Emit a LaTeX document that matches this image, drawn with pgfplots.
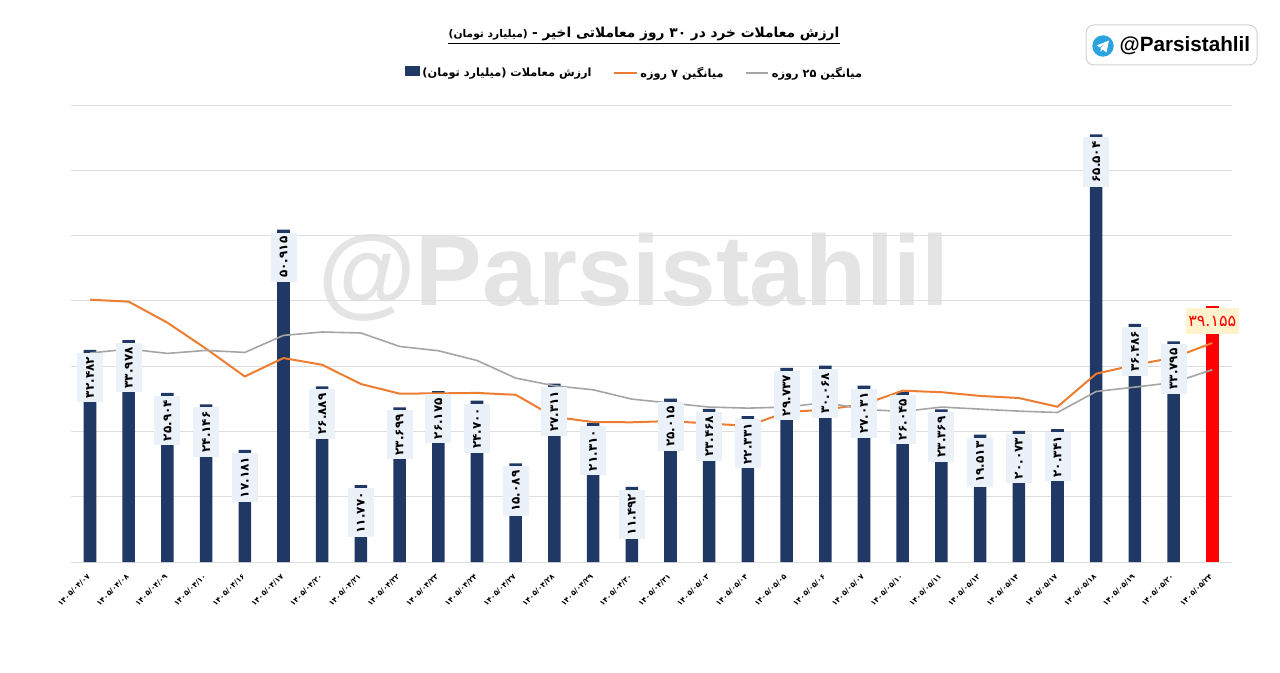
\documentclass[border=0pt]{standalone}
\usepackage{pgfplots}
\pgfplotsset{compat=1.18}
\usepackage{pgfplotstable}
\usetikzlibrary{backgrounds}
\usepackage{fontspec}
\setmainfont{DejaVu Sans}
\newfontfamily\fa[Script=Arabic]{DejaVu Sans}
\newfontfamily\lat{Liberation Sans}
\TeXXeTstate=1
\definecolor{barblue}{RGB}{32,56,100}
\definecolor{maorange}{RGB}{237,125,49}
\definecolor{magray}{RGB}{165,165,165}
\definecolor{gridgray}{RGB}{222,222,222}
\definecolor{labfill}{RGB}{234,241,249}
\definecolor{redlabfill}{RGB}{255,242,204}
\definecolor{tgblue}{RGB}{42,163,223}
\definecolor{wmgray}{RGB}{228,228,228}
\definecolor{boxgray}{RGB}{210,210,210}

\pgfplotstableread{
x y lab ma7 ma25
0 32.482 ۳۲.۴۸۲ 40.18 32.01
1 33.978 ۳۳.۹۷۸ 39.88 32.62
2 25.904 ۲۵.۹۰۴ 36.66 31.95
3 24.146 ۲۴.۱۴۶ 32.67 32.41
4 17.181 ۱۷.۱۸۱ 28.42 32.10
5 50.915 ۵۰.۹۱۵ 31.24 34.71
6 26.889 ۲۶.۸۸۹ 30.21 35.23
7 11.770 ۱۱.۷۷۰ 27.26 35.08
8 23.699 ۲۳.۶۹۹ 25.79 33.02
9 26.175 ۲۶.۱۷۵ 25.83 32.36
10 24.700 ۲۴.۷۰۰ 25.90 30.87
11 15.089 ۱۵.۰۸۹ 25.61 28.17
12 27.311 ۲۷.۳۱۱ 22.23 26.99
13 21.310 ۲۱.۳۱۰ 21.44 26.38
14 11.492 ۱۱.۴۹۲ 21.40 24.95
15 25.015 ۲۵.۰۱۵ 21.59 24.34
16 23.468 ۲۳.۴۶۸ 21.20 23.73
17 22.331 ۲۲.۳۳۱ 20.86 23.57
18 29.737 ۲۹.۷۳۷ 22.95 23.73
19 30.068 ۳۰.۰۶۸ 23.35 24.43
20 27.031 ۲۷.۰۳۱ 24.16 23.39
21 26.045 ۲۶.۰۴۵ 26.24 23.05
22 23.369 ۲۳.۳۶۹ 26.01 23.73
23 19.513 ۱۹.۵۱۳ 25.44 23.42
24 20.073 ۲۰.۰۷۳ 25.12 23.11
25 20.341 ۲۰.۳۴۱ 23.78 22.90
26 65.504 ۶۵.۵۰۴ 28.84 26.12
27 36.486 ۳۶.۴۸۶ 30.19 26.79
28 33.795 ۳۳.۷۹۵ 31.30 27.50
}\data

\pgfplotstableread{
x y lab
29 39.155 ۳۹.۱۵۵
}\last

\begin{document}
\begin{tikzpicture}
\begin{axis}[
  name=ax,
  width=870.75pt, height=342.75pt, scale only axis,
  xmin=-0.5, xmax=29.5, ymin=0, ymax=70,
  ytick={0,10,...,70}, yticklabels={},
  ymajorgrids,
  grid style={gridgray, line width=0.75pt},
  axis line style={draw=none},
  major tick length=0pt,
  xtick={0,...,29},
  xticklabels={۱۴۰۵/۰۴/۰۷, ۱۴۰۵/۰۴/۰۸, ۱۴۰۵/۰۴/۰۹, ۱۴۰۵/۰۴/۱۰, ۱۴۰۵/۰۴/۱۶, ۱۴۰۵/۰۴/۱۷, ۱۴۰۵/۰۴/۲۰, ۱۴۰۵/۰۴/۲۱, ۱۴۰۵/۰۴/۲۲, ۱۴۰۵/۰۴/۲۳, ۱۴۰۵/۰۴/۲۴, ۱۴۰۵/۰۴/۲۷, ۱۴۰۵/۰۴/۲۸, ۱۴۰۵/۰۴/۲۹, ۱۴۰۵/۰۴/۳۰, ۱۴۰۵/۰۴/۳۱, ۱۴۰۵/۰۵/۰۳, ۱۴۰۵/۰۵/۰۴, ۱۴۰۵/۰۵/۰۵, ۱۴۰۵/۰۵/۰۶, ۱۴۰۵/۰۵/۰۷, ۱۴۰۵/۰۵/۱۰, ۱۴۰۵/۰۵/۱۱, ۱۴۰۵/۰۵/۱۲, ۱۴۰۵/۰۵/۱۴, ۱۴۰۵/۰۵/۱۷, ۱۴۰۵/۰۵/۱۸, ۱۴۰۵/۰۵/۱۹, ۱۴۰۵/۰۵/۲۰, ۱۴۰۵/۰۵/۲۴},
  xticklabel style={font=\fa\bfseries\fontsize{5.6}{6}\selectfont, rotate=45, anchor=east, inner sep=1pt},
  xticklabel shift=9pt,
  legend columns=3,
  legend style={at={(0.486,1.070)}, anchor=center, draw=none, fill=none,
    font=\fa\bfseries\fontsize{8.5}{10}\selectfont,
    /tikz/every even column/.append style={column sep=14pt}},
]
\addplot[ybar, bar width=9.4pt, bar shift=0pt, fill=barblue, draw=none,
  legend image code/.code={\fill[barblue] (0pt,-2pt) rectangle (11pt,5.5pt);}]
  table[x=x,y=y]{\data};
\addlegendentry{\beginR ارزش معاملات (میلیارد تومان)\endR}
\addplot[ybar, bar width=9.4pt, bar shift=0pt, fill=red, draw=none, forget plot]
  table[x=x,y=y]{\last};
\addplot[maorange, line width=1.5pt, sharp plot, no marks] coordinates {(0,40.18) (1,39.88) (2,36.66) (3,32.67) (4,28.42) (5,31.24) (6,30.21) (7,27.26) (8,25.79) (9,25.83) (10,25.90) (11,25.61) (12,22.23) (13,21.44) (14,21.40) (15,21.59) (16,21.20) (17,20.86) (18,22.95) (19,23.35) (20,24.16) (21,26.24) (22,26.01) (23,25.44) (24,25.12) (25,23.78) (26,28.84) (27,30.19) (28,31.30) (29,33.55)};
\addlegendentry{\beginR میانگین ۷ روزه\endR}
\addplot[magray, line width=1.2pt, sharp plot, no marks] coordinates {(0,32.01) (1,32.62) (2,31.95) (3,32.41) (4,32.10) (5,34.71) (6,35.23) (7,35.08) (8,33.02) (9,32.36) (10,30.87) (11,28.17) (12,26.99) (13,26.38) (14,24.95) (15,24.34) (16,23.73) (17,23.57) (18,23.73) (19,24.43) (20,23.39) (21,23.05) (22,23.73) (23,23.42) (24,23.11) (25,22.90) (26,26.12) (27,26.79) (28,27.50) (29,29.45)};
\addlegendentry{\beginR میانگین ۲۵ روزه\endR}
% value labels (blue bars)
\addplot[ybar, bar width=9.4pt, bar shift=0pt, draw=none, fill=none, forget plot,
  point meta=explicit symbolic, nodes near coords,
  every node near coord/.append style={font=\fa\bfseries\fontsize{9}{10}\selectfont, fill=labfill,
    rotate=90, anchor=east, inner xsep=3pt, inner ysep=0pt, minimum height=19.5pt, outer xsep=2.25pt, text=black}]
  table[x=x,y=y,meta=lab]{\data};
% value label (red bar)
\addplot[ybar, bar width=9.4pt, bar shift=0pt, draw=none, fill=none, forget plot,
  point meta=explicit symbolic, nodes near coords,
  every node near coord/.append style={font=\fa\fontsize{12}{13}\selectfont, fill=redlabfill,
    anchor=north, inner xsep=2pt, inner ysep=0pt, minimum height=19pt, minimum width=37.5pt, outer ysep=1.5pt, text=red}]
  table[x=x,y=y,meta=lab]{\last};
\end{axis}
\begin{scope}[shift={(ax.south west)}, x=0.75pt, y=0.75pt, shift={(-70.65,-110)}]
\begin{scope}[on background layer]
\fill[white] (0,0) rectangle (1280,672);
\node[anchor=base, inner sep=0pt, font=\lat\bfseries\fontsize{75}{80}\selectfont, text=wmgray] at (634,367) {@Parsistahlil};
\end{scope}
% title
\node[anchor=base, inner sep=0pt] (t) at (644,634) {\fa\beginR{\bfseries\fontsize{10.3}{12}\selectfont ارزش معاملات خرد در ۳۰ روز معاملاتی اخیر -} {\bfseries\fontsize{8}{10}\selectfont (میلیارد تومان)}\endR};
\draw[line width=0.7pt] ([yshift=-4pt]t.base west) -- ([yshift=-4pt]t.base east);
% badge
\draw[rounded corners=6pt, draw=boxgray, line width=0.75pt, fill=white] (1086,647) rectangle (1257,607);
\fill[tgblue] (1103,626) circle (10.7);
\fill[white] (1096.5,626.5) -- (1109,631.5) -- (1106.5,619.5) -- (1102.5,622.5) -- (1100.5,619.8) -- (1100.5,624.2) -- (1106.5,629) -- (1099.5,624.8) -- cycle;
\node[anchor=west, font=\lat\bfseries\fontsize{15.5}{18}\selectfont] at (1115,626) {@Parsistahlil};
\pgfresetboundingbox
\path[use as bounding box] (0,0) rectangle (1280,672);
\end{scope}
\end{tikzpicture}
\end{document}
